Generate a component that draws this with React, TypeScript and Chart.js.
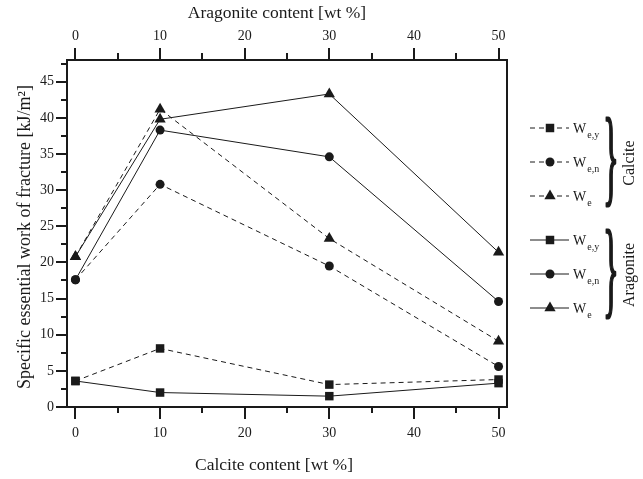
import React, { useEffect, useRef } from 'react';
import { Chart, registerables } from 'chart.js';

Chart.register(...registerables);

// ---- data ----
const contentPercent = [0, 10, 30, 50];
const calciteWey = [3.6, 8.1, 3.1, 3.8];
const calciteWen = [17.6, 30.8, 19.5, 5.6];
const calciteWe = [20.8, 41.2, 23.3, 9.1];
const aragoniteWey = [3.6, 2.0, 1.5, 3.3];
const aragoniteWen = [17.6, 38.3, 34.6, 14.6];
const aragoniteWe = [20.8, 39.8, 43.3, 21.4];

const xMajorTicks = [0, 10, 20, 30, 40, 50];
const xMinorTicks = [5, 15, 25, 35, 45];
const yMajorTicks = [0, 5, 10, 15, 20, 25, 30, 35, 40, 45];
const yMinorTicks = [2.5, 7.5, 12.5, 17.5, 22.5, 27.5, 32.5, 37.5, 42.5, 47.5];

const bottomTitle = 'Calcite content [wt %]';
const topTitle = 'Aragonite content [wt %]';
const yTitle = 'Specific essential work of fracture [kJ/m²]';
const groupNames = ['Calcite', 'Aragonite'];
const quantityBase = 'W';
const quantitySubs = ['e,y', 'e,n', 'e'];

const INK = '#1a1a1a';
const SERIF = '"Liberation Serif", "DejaVu Serif", serif';

type Marker = 'rect' | 'circle' | 'triangle';
const markers: Marker[] = ['rect', 'circle', 'triangle'];
const markerRadius: Record<Marker, number> = { rect: 6, circle: 4.5, triangle: 6.5 };

const series = [
  { group: 0, kind: 0, values: calciteWey },
  { group: 0, kind: 1, values: calciteWen },
  { group: 0, kind: 2, values: calciteWe },
  { group: 1, kind: 0, values: aragoniteWey },
  { group: 1, kind: 1, values: aragoniteWen },
  { group: 1, kind: 2, values: aragoniteWe },
];

function drawMarker(ctx: CanvasRenderingContext2D, m: Marker, x: number, y: number) {
  ctx.beginPath();
  if (m === 'rect') {
    const s = markerRadius.rect * Math.SQRT1_2;
    ctx.rect(x - s, y - s, 2 * s, 2 * s);
  } else if (m === 'circle') {
    ctx.arc(x, y, markerRadius.circle, 0, Math.PI * 2);
  } else {
    const r = markerRadius.triangle;
    ctx.moveTo(x, y - r);
    ctx.lineTo(x + r * Math.sin((2 * Math.PI) / 3), y - r * Math.cos((2 * Math.PI) / 3));
    ctx.lineTo(x + r * Math.sin((4 * Math.PI) / 3), y - r * Math.cos((4 * Math.PI) / 3));
    ctx.closePath();
  }
  ctx.fill();
}

function drawBrace(ctx: CanvasRenderingContext2D, x: number, yTop: number, yBottom: number) {
  ctx.save();
  ctx.font = `60px ${SERIF}`;
  const m = ctx.measureText('}');
  const asc = m.actualBoundingBoxAscent;
  const desc = m.actualBoundingBoxDescent;
  const sy = (yBottom - yTop) / (asc + desc);
  ctx.translate(x, (yTop + yBottom) / 2);
  ctx.scale(0.55, sy);
  ctx.textAlign = 'left';
  ctx.textBaseline = 'alphabetic';
  ctx.lineWidth = 1.6;
  ctx.lineJoin = 'round';
  ctx.fillText('}', 0, (asc - desc) / 2);
  ctx.strokeText('}', 0, (asc - desc) / 2);
  ctx.restore();
}

const framePlugin = {
  id: 'frameAndDecor',
  afterDraw(chart: any) {
    const { ctx, chartArea } = chart;
    const { left, right, top, bottom } = chartArea;
    const xs = chart.scales.x;
    const xs2 = chart.scales.x2;
    const ys = chart.scales.y;
    ctx.save();
    ctx.strokeStyle = INK;
    ctx.fillStyle = INK;
    ctx.setLineDash([]);
    // frame
    ctx.lineWidth = 2;
    ctx.strokeRect(left, top, right - left, bottom - top);
    // ticks
    ctx.beginPath();
    xMajorTicks.forEach((v) => {
      const px = Math.round(xs.getPixelForValue(v));
      ctx.moveTo(px, bottom); ctx.lineTo(px, bottom + 12);
      const px2 = Math.round(xs2.getPixelForValue(v));
      ctx.moveTo(px2, top); ctx.lineTo(px2, top - 12);
    });
    xMinorTicks.forEach((v) => {
      const px = Math.round(xs.getPixelForValue(v));
      ctx.moveTo(px, bottom); ctx.lineTo(px, bottom + 6);
      const px2 = Math.round(xs2.getPixelForValue(v));
      ctx.moveTo(px2, top); ctx.lineTo(px2, top - 7);
    });
    yMajorTicks.forEach((v) => {
      const py = Math.round(ys.getPixelForValue(v));
      ctx.moveTo(left, py); ctx.lineTo(left - 11, py);
    });
    yMinorTicks.forEach((v) => {
      const py = Math.round(ys.getPixelForValue(v));
      ctx.moveTo(left, py); ctx.lineTo(left - 6, py);
    });
    ctx.stroke();

    // axis titles
    ctx.font = `17.5px ${SERIF}`;
    ctx.textAlign = 'center';
    ctx.textBaseline = 'middle';
    ctx.fillText(bottomTitle, 274, 465);
    ctx.fillText(topTitle, 277, 13);
    ctx.save();
    ctx.translate(25, 237);
    ctx.rotate(-Math.PI / 2);
    ctx.font = `18px ${SERIF}`;
    ctx.fillText(yTitle, 0, 0);
    ctx.restore();

    // legend
    const rowY = [128, 162, 196, 240, 274, 308];
    series.forEach((s, i) => {
      const y = rowY[i];
      ctx.lineWidth = 1;
      ctx.setLineDash(s.group === 0 ? [5, 4] : []);
      ctx.beginPath();
      ctx.moveTo(530, y); ctx.lineTo(569, y);
      ctx.stroke();
      ctx.setLineDash([]);
      drawMarker(ctx, markers[s.kind], 550, y);
      ctx.textAlign = 'left';
      ctx.textBaseline = 'alphabetic';
      ctx.font = `14px ${SERIF}`;
      ctx.fillText(quantityBase, 573, y + 5);
      const w = ctx.measureText(quantityBase).width;
      ctx.font = `10px ${SERIF}`;
      ctx.fillText(quantitySubs[s.kind], 573 + w + 1, y + 10);
    });
    // braces and group names
    [0, 1].forEach((g) => {
      const y1 = rowY[g * 3];
      const y2 = rowY[g * 3 + 2];
      const ym = (y1 + y2) / 2;
      drawBrace(ctx, 603, y1 - 10, y2 + 12);
      ctx.save();
      ctx.translate(630, ym + 1);
      ctx.rotate(-Math.PI / 2);
      ctx.font = `16px ${SERIF}`;
      ctx.textAlign = 'center';
      ctx.textBaseline = 'middle';
      ctx.fillText(groupNames[g], 0, 0);
      ctx.restore();
    });
    ctx.restore();
  },
};

const tickFont = { family: SERIF, size: 14 };

export default function App() {
  const ref = useRef<HTMLCanvasElement>(null);
  useEffect(() => {
    const canvas = ref.current;
    if (!canvas) return;
    const chart = new Chart(canvas, {
      type: 'line',
      data: {
        datasets: series.map((s) => ({
          label: `${groupNames[s.group]} ${quantityBase}${quantitySubs[s.kind]}`,
          data: contentPercent.map((x, i) => ({ x, y: s.values[i] })),
          borderColor: INK,
          backgroundColor: INK,
          borderWidth: 1,
          borderDash: s.group === 0 ? [5, 4] : [],
          pointStyle: markers[s.kind],
          pointRadius: markerRadius[markers[s.kind]],
          pointBackgroundColor: INK,
          pointBorderColor: INK,
          pointBorderWidth: 0,
          tension: 0,
          fill: false,
          xAxisID: 'x',
          yAxisID: 'y',
        })),
      },
      options: {
        responsive: false,
        animation: false,
        devicePixelRatio: 1,
        layout: { padding: { left: 0, right: 136, top: 0, bottom: 0 } },
        plugins: { legend: { display: false }, tooltip: { enabled: false } },
        scales: {
          x: {
            type: 'linear', position: 'bottom', min: -1, max: 51,
            grid: { display: false, drawTicks: false }, border: { display: false },
            ticks: { font: tickFont, color: INK, padding: 18, maxRotation: 0 },
            afterBuildTicks: (s: any) => { s.ticks = xMajorTicks.map((value) => ({ value })); },
            afterFit: (s: any) => { s.height = 72; },
          },
          x2: {
            type: 'linear', position: 'top', min: -1, max: 51,
            grid: { display: false, drawTicks: false }, border: { display: false },
            ticks: { font: tickFont, color: INK, padding: 15, maxRotation: 0 },
            afterBuildTicks: (s: any) => { s.ticks = xMajorTicks.map((value) => ({ value })); },
            afterFit: (s: any) => { s.height = 60; },
          },
          y: {
            type: 'linear', position: 'left', min: 0, max: 48,
            grid: { display: false, drawTicks: false }, border: { display: false },
            ticks: { font: tickFont, color: INK, padding: 13 },
            afterBuildTicks: (s: any) => { s.ticks = yMajorTicks.map((value) => ({ value })); },
            afterFit: (s: any) => { s.width = 67; },
          },
        },
      } as any,
      plugins: [framePlugin],
    });
    return () => chart.destroy();
  }, []);
  return (
    <div style={{ position: 'fixed', left: 0, top: 0, width: 643, height: 479, background: '#fff' }}>
      <canvas ref={ref} width={643} height={479} />
    </div>
  );
}
